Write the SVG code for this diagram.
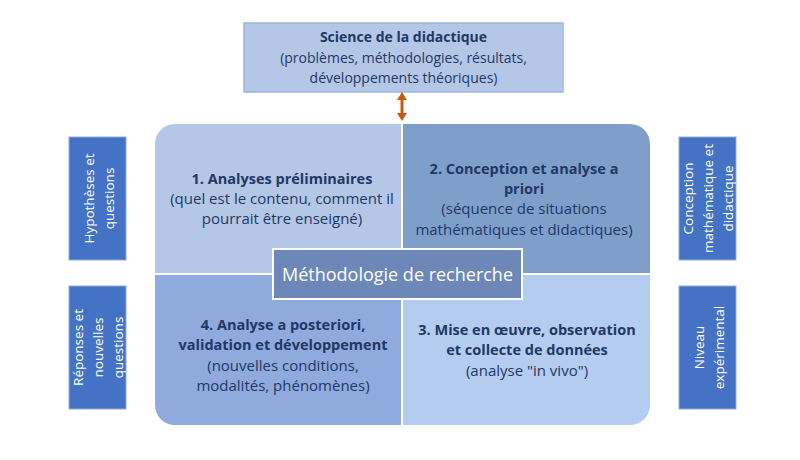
<svg xmlns="http://www.w3.org/2000/svg" width="800" height="460" viewBox="0 0 800 460">
  <defs>
    <style>
      .t { font-family: "Open Sans", "Liberation Sans", sans-serif; fill: #1F3864; text-anchor: middle; }
      .q { font-size: 15px; }
      .qb { font-size: 14.5px; font-weight: bold; }
      .top { font-size: 14px; }
      .side { fill: #4472C4; stroke: #8FAADC; stroke-width: 1; }
      .st { font-family: "Open Sans", "Liberation Sans", sans-serif; fill: #FFFFFF; font-size: 13.5px; text-anchor: middle; }
    </style>
    <clipPath id="rr">
      <rect x="155" y="124" width="495" height="301" rx="20" ry="20"/>
    </clipPath>
    <marker id="ah" viewBox="0 0 8 10" refX="0" refY="5" markerWidth="8" markerHeight="10" orient="auto-start-reverse" markerUnits="userSpaceOnUse">
      <path d="M0,0 L8,5 L0,10 Z" fill="#C55A11"/>
    </marker>
  </defs>
  <rect width="800" height="460" fill="#FFFFFF"/>

  <g id="science">
    <rect x="244" y="23" width="319" height="69" fill="#B4C7E7" stroke="#9DB5E0" stroke-width="1.5"/>
    <text class="t top" x="403.5" y="42" font-weight="bold">Science de la didactique</text>
    <text class="t top" x="403.5" y="63">(problèmes, méthodologies, résultats,</text>
    <text class="t top" x="403.5" y="83">développements théoriques)</text>
  </g>

  <g id="connectors">
    <line x1="402" y1="100" x2="402" y2="113" stroke="#C55A11" stroke-width="3" marker-start="url(#ah)" marker-end="url(#ah)"/>
  </g>

  <g id="methodologie" clip-path="url(#rr)">
    <g id="q1">
      <rect x="155" y="124" width="246" height="149" fill="#B4C7E7"/>
      <text class="t qb" x="282" y="184">1. Analyses préliminaires</text>
      <text class="t q" x="282" y="204">(quel est le contenu, comment il</text>
      <text class="t q" x="282" y="224">pourrait être enseigné)</text>
    </g>
    <g id="q2">
      <rect x="403" y="124" width="247" height="149" fill="#7F9FCB"/>
      <text class="t qb" x="524" y="174">2. Conception et analyse a</text>
      <text class="t qb" x="524" y="194">priori</text>
      <text class="t q" x="524" y="214">(séquence de situations</text>
      <text class="t q" x="524" y="235">mathématiques et didactiques)</text>
    </g>
    <g id="q4">
      <rect x="155" y="275" width="246" height="150" fill="#8FAADC"/>
      <text class="t qb" x="283" y="330">4. Analyse a posteriori,</text>
      <text class="t qb" x="283" y="350">validation et développement</text>
      <text class="t q" x="283" y="371">(nouvelles conditions,</text>
      <text class="t q" x="283" y="391">modalités, phénomènes)</text>
    </g>
    <g id="q3">
      <rect x="403" y="275" width="247" height="150" fill="#B5CCF1"/>
      <text class="t qb" x="527" y="335">3. Mise en œuvre, observation</text>
      <text class="t qb" x="527" y="355">et collecte de données</text>
      <text class="t q" x="527" y="376">(analyse "in vivo")</text>
    </g>
  </g>

  <g id="centre">
    <rect x="273" y="249" width="249" height="50" fill="#6D88B8" stroke="#FFFFFF" stroke-width="2"/>
    <text x="397.5" y="281" font-family="Open Sans, Liberation Sans, sans-serif" font-size="18" fill="#FFFFFF" text-anchor="middle">Méthodologie de recherche</text>
  </g>

  <g id="hypotheses">
    <rect class="side" x="69" y="137" width="57" height="123"/>
    <g transform="translate(97.5,198.5) rotate(-90)">
      <text class="st" x="0" y="-3.5">Hypothèses et</text>
      <text class="st" x="0" y="16.5">questions</text>
    </g>
  </g>

  <g id="reponses">
    <rect class="side" x="69" y="286" width="57" height="123"/>
    <g transform="translate(97.5,347.5) rotate(-90)">
      <text class="st" x="0" y="-14.5">Réponses et</text>
      <text class="st" x="0" y="5.5">nouvelles</text>
      <text class="st" x="0" y="25">questions</text>
    </g>
  </g>

  <g id="conception">
    <rect class="side" x="679" y="137" width="57" height="123"/>
    <g transform="translate(707.5,198.5) rotate(-90)">
      <text class="st" x="0" y="-14.5">Conception</text>
      <text class="st" x="0" y="5.5">mathématique et</text>
      <text class="st" x="0" y="25">didactique</text>
    </g>
  </g>

  <g id="niveau">
    <rect class="side" x="679" y="286" width="57" height="123"/>
    <g transform="translate(707.5,347.5) rotate(-90)">
      <text class="st" x="0" y="-3.5">Niveau</text>
      <text class="st" x="0" y="16.5">expérimental</text>
    </g>
  </g>
</svg>
